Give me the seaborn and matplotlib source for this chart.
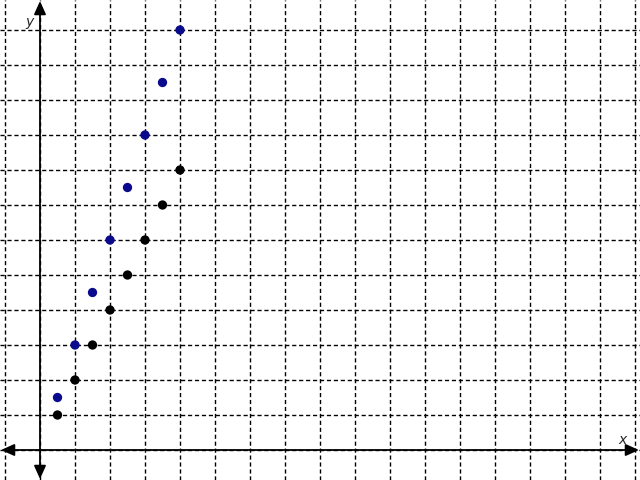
import matplotlib
matplotlib.use("Agg")
import matplotlib.pyplot as plt
import seaborn as sns
import pandas as pd

x_vals = [0.5, 1, 1.5, 2, 2.5, 3, 3.5, 4]
black_y = [1, 2, 3, 4, 5, 6, 7, 8]
blue_y = [1.5, 3, 4.5, 6, 7.5, 9, 10.5, 12]

df = pd.DataFrame({
    "x": x_vals + x_vals,
    "y": black_y + blue_y,
    "series": ["black"] * len(x_vals) + ["blue"] * len(x_vals),
})

sns.set_theme(style="white")
plt.rcParams['font.family'] = ['DejaVu Sans']

fig = plt.figure(figsize=(6.4, 4.8), dpi=100)
ax = fig.add_axes([0, 0, 1, 1])

xmin, xmax = -40 / 35, 600 / 35
ymin, ymax = -30 / 35, 450 / 35
ax.set_xlim(xmin, xmax)
ax.set_ylim(ymin, ymax)

ax.set_xticks(range(-1, 18))
ax.set_yticks(range(0, 13))
ax.tick_params(length=0, labelbottom=False, labelleft=False)
ax.grid(True, color="black", linestyle=(0, (3, 2)), linewidth=1)
for s in ax.spines.values():
    s.set_visible(False)

arrow = dict(arrowstyle="<|-|>,head_length=0.8,head_width=0.36", color="black",
             lw=1.3, mutation_scale=10, shrinkA=0, shrinkB=0)
ax.annotate("", xy=(xmax - 0.03, 0), xytext=(xmin + 0.03, 0), arrowprops=arrow, zorder=3)
ax.annotate("", xy=(0, ymax - 0.03), xytext=(0, ymin + 0.03), arrowprops=arrow, zorder=3)

sns.scatterplot(data=df, x="x", y="y", hue="series",
                palette={"black": "#000000", "blue": "#0a0a8c"},
                s=45, edgecolor="none", legend=False, ax=ax, zorder=4)

ax.set_xlabel("")
ax.set_ylabel("")
ax.text(-0.29, 12.23, "y", style="italic", fontsize=10, ha="center", va="center")
ax.text(16.63, 0.3, "x", style="italic", fontsize=10, ha="center", va="center")

fig.savefig("out.png", dpi=100)
